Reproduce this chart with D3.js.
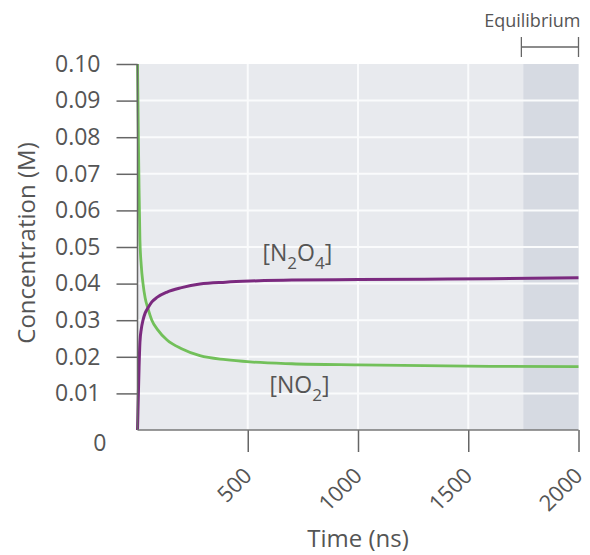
<!DOCTYPE html>
<html>
<head>
<meta charset="utf-8">
<script src="https://cdn.jsdelivr.net/npm/d3@7"></script>
<style>
  body { margin: 0; background: #fff; }
  text { font-family: "Open Sans", sans-serif; fill: #555; }
</style>
</head>
<body>
<div id="chart"></div>
<script>
// data (time in ns, concentration in M)
var times = [0, 2, 4, 7, 11, 17, 25, 35, 47, 65, 90, 134, 200, 283, 400, 510, 700, 1000, 1300, 1600, 2000];
var no2   = [0.100, 0.090, 0.080, 0.066, 0.052, 0.045, 0.040, 0.036, 0.0333, 0.0300, 0.0275, 0.0246, 0.0222, 0.0203, 0.0192, 0.0186, 0.0181, 0.0178, 0.0176, 0.0174, 0.0173];
var n2o4  = [0, 0.005, 0.010, 0.017, 0.024, 0.0275, 0.030, 0.032, 0.0333, 0.0350, 0.0363, 0.0377, 0.0389, 0.0399, 0.0404, 0.0407, 0.0410, 0.0411, 0.0412, 0.0413, 0.0416];
var yTicks = [0, 0.01, 0.02, 0.03, 0.04, 0.05, 0.06, 0.07, 0.08, 0.09, 0.10];
var xTicks = [500, 1000, 1500, 2000];
var equilibriumStart = 1750;

// set the dimensions and margins of the graph
var margin = {top: 64, right: 11.5, bottom: 125, left: 137.5},
    width = 590 - margin.left - margin.right,
    height = 555 - margin.top - margin.bottom;

var svg = d3.select("#chart")
  .append("svg")
    .attr("width", 590)
    .attr("height", 555)
  .append("g")
    .attr("transform", "translate(" + margin.left + "," + margin.top + ")");

var x = d3.scaleLinear().domain([0, 2000]).range([0, width]);
var y = d3.scaleLinear().domain([0, 0.10]).range([height, 0]);

// plot background + equilibrium band
svg.append("rect")
    .attr("width", width).attr("height", height)
    .style("fill", "#e8eaee");
svg.append("rect")
    .attr("x", x(equilibriumStart)).attr("width", x(2000) - x(equilibriumStart))
    .attr("height", height)
    .style("fill", "#d6dae2");

// white grid
svg.selectAll(".hgrid")
  .data(yTicks.filter(d => d > 0 && d < 0.1))
  .enter().append("line")
    .attr("x1", 0).attr("x2", width)
    .attr("y1", d => y(d)).attr("y2", d => y(d))
    .style("stroke", "#fafbfc").style("stroke-width", 2);
svg.selectAll(".vgrid")
  .data(xTicks.filter(d => d < 2000))
  .enter().append("line")
    .attr("x1", d => x(d)).attr("x2", d => x(d))
    .attr("y1", 0).attr("y2", height)
    .style("stroke", "#fafbfc").style("stroke-width", 2);

// lines
var line = function(vals) {
  return d3.line()
    .x((d, i) => x(times[i]))
    .y(d => y(d))
    .curve(d3.curveMonotoneX)(vals);
};
svg.append("path").attr("d", line(no2))
    .style("fill", "none").style("stroke", "#72c05a").style("stroke-width", 2.8);
svg.append("path").attr("d", line(n2o4))
    .style("fill", "none").style("stroke", "#7b2a7f").style("stroke-width", 3);

// Y axis
var yAxis = svg.append("g")
    .call(d3.axisLeft(y).tickValues(yTicks).tickSize(21).tickPadding(16)
      .tickFormat(d => d === 0 ? "0" : d3.format(".2f")(d)));
yAxis.select(".domain").remove();
yAxis.selectAll(".tick line").style("stroke", "#666").style("stroke-width", 1.5)
    .filter(d => d === 0).remove();
yAxis.selectAll("text").style("font-size", "23px").style("fill", "#555");
yAxis.selectAll(".tick").filter(d => d === 0).select("text")
    .attr("x", -31).attr("dy", "0.9em");
svg.append("line")
    .attr("x1", 0).attr("x2", 0).attr("y1", 0).attr("y2", height)
    .style("stroke", "#666").style("stroke-width", 1.5);

// X axis
var xAxis = svg.append("g")
    .attr("transform", "translate(0," + height + ")")
    .call(d3.axisBottom(x).tickValues(xTicks).tickSize(22).tickFormat(d3.format("d")));
xAxis.select(".domain").remove();
xAxis.selectAll(".tick line").style("stroke", "#666").style("stroke-width", 1.5);
xAxis.selectAll("text")
    .attr("y", 0).attr("dy", 0)
    .attr("transform", "translate(5,47) rotate(-45)")
    .style("text-anchor", "end")
    .style("font-size", "22px").style("fill", "#555");
svg.append("line")
    .attr("x1", 0).attr("x2", width).attr("y1", height).attr("y2", height)
    .style("stroke", "#777").style("stroke-width", 1.5);

// axis titles
svg.append("text")
    .attr("x", x(1000)).attr("y", height + 117)
    .attr("text-anchor", "middle")
    .style("font-size", "24px")
    .text("Time (ns)");
svg.append("text")
    .attr("transform", "translate(" + (-103) + "," + (height / 2 - 4) + ") rotate(-90)")
    .attr("text-anchor", "middle")
    .style("font-size", "24px")
    .text("Concentration (M)");

// series labels
var lab1 = svg.append("text").attr("x", 125).attr("y", 197).style("font-size", "23px");
lab1.append("tspan").text("[N");
lab1.append("tspan").text("2").attr("dy", 8).style("font-size", "17px");
lab1.append("tspan").text("O").attr("dy", -8);
lab1.append("tspan").text("4").attr("dy", 8).style("font-size", "17px");
lab1.append("tspan").text("]").attr("dy", -8);

var lab2 = svg.append("text").attr("x", 132).attr("y", 329).style("font-size", "23px");
lab2.append("tspan").text("[NO");
lab2.append("tspan").text("2").attr("dy", 8).style("font-size", "17px");
lab2.append("tspan").text("]").attr("dy", -8);

// equilibrium bracket
var bx1 = x(equilibriumStart) - 2, bx2 = x(2000), by = -17;
svg.append("line").attr("x1", bx1).attr("x2", bx2).attr("y1", by).attr("y2", by)
    .style("stroke", "#666").style("stroke-width", 1.3);
svg.append("line").attr("x1", bx1).attr("x2", bx1).attr("y1", by - 10).attr("y2", by + 10)
    .style("stroke", "#666").style("stroke-width", 1.3);
svg.append("line").attr("x1", bx2).attr("x2", bx2).attr("y1", by - 10).attr("y2", by + 10)
    .style("stroke", "#666").style("stroke-width", 1.3);
svg.append("text")
    .attr("x", bx2 + 2).attr("y", -37)
    .attr("text-anchor", "end")
    .style("font-size", "18px")
    .text("Equilibrium");
</script>
</body>
</html>
